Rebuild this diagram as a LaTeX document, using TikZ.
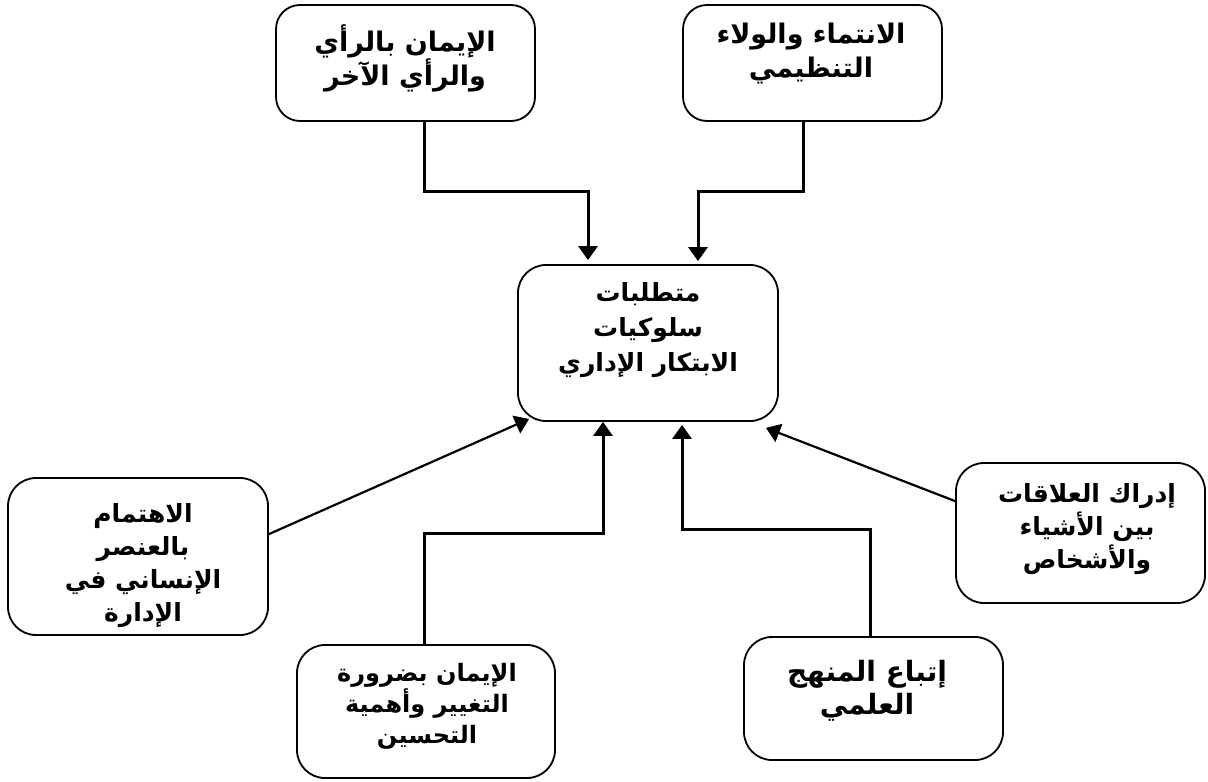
\documentclass[tikz,border=0pt]{standalone}
\usepackage{fontspec}
\newfontfamily\arabicfont[Script=Arabic]{DejaVu Sans}
\TeXXeTstate=1
\usetikzlibrary{arrows.meta,calc}
\newcommand{\rl}[1]{\beginR #1\endR}
\begin{document}
\begin{tikzpicture}[x=0.5pt,y=-0.5pt,
  box/.style={draw, line width=0.9pt, rounded corners=12pt, inner sep=0pt},
  txt/.style={font=\arabicfont\bfseries\fontsize{12.5}{16.5}\selectfont, align=center, inner sep=0pt},
  wide/.style={font=\arabicfont\bfseries\fontsize{13.5}{17}\selectfont},
  conn/.style={line width=1.5pt, -{Triangle[length=7pt,width=9.5pt]}},
  diag/.style={line width=1.1pt, -{Triangle[length=7pt,width=9.5pt]}}]
\useasboundingbox (0,0) rectangle (1208,781);
% boxes
\node[box, minimum width=129.5pt, minimum height=58pt] (tl) at (405.5,63) {};
\node[box, minimum width=129.5pt, minimum height=58pt] (tr) at (812.5,63) {};
\node[box, minimum width=130pt, minimum height=78pt, rounded corners=14pt] (c) at (648,343) {};
\node[box, minimum width=130pt, minimum height=78.5pt, rounded corners=14pt] (l) at (138,556.5) {};
\node[box, minimum width=129pt, minimum height=66.5pt, rounded corners=14pt] (b) at (426,711.5) {};
\node[box, minimum width=129.5pt, minimum height=61.5pt, rounded corners=14pt] (br) at (873.5,698.5) {};
\node[box, minimum width=124.5pt, minimum height=70pt, rounded corners=14pt] (r) at (1080.5,533) {};
% texts
\node[txt, wide] (tlt) at (405,58) {\rl{الإيمان بالرأي}\\\rl{والرأي الآخر}};
\node[txt, wide] (trt) at (811,54) {\rl{الانتماء والولاء}\\\rl{التنظيمي}};
\node[txt, font=\arabicfont\bfseries\fontsize{12.5}{17.5}\selectfont] (ct) at (648,330) {\rl{متطلبات}\\\rl{سلوكيات}\\\rl{الابتكار الإداري}};
\node[txt] (lt) at (143,566) {\rl{الاهتمام}\\\rl{بالعنصر}\\\rl{الإنساني في}\\\rl{الإدارة}};
\node[txt, font=\arabicfont\bfseries\fontsize{12}{15.5}\selectfont] (bt) at (427,706) {\rl{الإيمان بضرورة}\\\rl{التغيير وأهمية}\\\rl{التحسين}};
\node[txt, font=\arabicfont\bfseries\fontsize{14}{16.5}\selectfont] (brt) at (867,691) {\rl{إتباع المنهج}\\\rl{العلمي}};
\node[txt] (rt) at (1087,529) {\rl{إدراك العلاقات}\\\rl{بين الأشياء}\\\rl{والأشخاص}};
% connectors
\coordinate (k1) at (424,191); \coordinate (k2) at (588,191);
\coordinate (k3) at (803,191); \coordinate (k4) at (698,191);
\coordinate (k5) at (424,533); \coordinate (k6) at (603,533);
\coordinate (k7) at (870,529); \coordinate (k8) at (682,529);
\draw[conn, shorten >=2pt] (tl.south -| k1) -- (k1) -- (k2) -- (k2 |- c.north);
\draw[conn, shorten >=1.5pt] (tr.south -| k3) -- (k3) -- (k4) -- (k4 |- c.north);
\draw[conn] (b.north -| k5) -- (k5) -- (k6) -- (k6 |- c.south);
\draw[conn, shorten >=1.5pt] (br.north -| k7) -- (k7) -- (k8) -- (k8 |- c.south);
\draw[diag] ($(l.north east)+(0,57)$) -- ($(c.south west)+(12,-3)$);
\draw[diag] ($(r.north west)+(0,39)$) -- ($(c.south east)+(-13,6)$);
\end{tikzpicture}
\end{document}
